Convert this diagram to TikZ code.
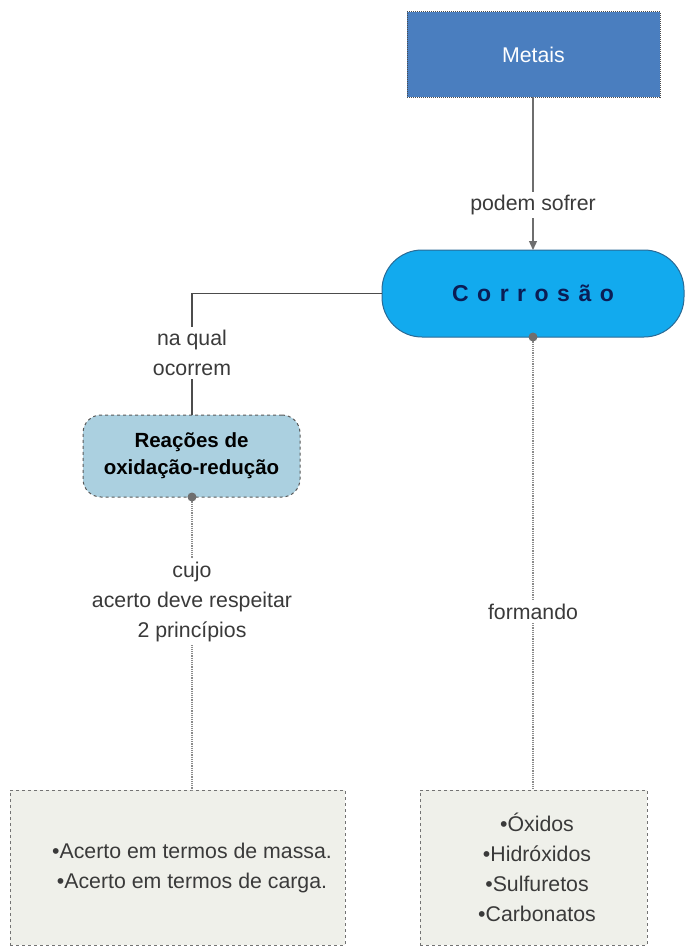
\documentclass[tikz,border=0pt]{standalone}
\usepackage{fontspec}
\setmainfont{Liberation Sans}
\usetikzlibrary{arrows.meta}
\definecolor{metfill}{HTML}{4A7EBF}
\definecolor{corfill}{HTML}{12AAEE}
\definecolor{corline}{HTML}{2A6A95}
\definecolor{cortext}{HTML}{0B1D55}
\definecolor{reafill}{HTML}{ABD0E0}
\definecolor{boxfill}{HTML}{EFF0EA}
\definecolor{txt}{HTML}{3A3A3A}
\definecolor{lin}{HTML}{6E6E6E}
\newcommand{\lsp}{\hspace{8.5pt}}
\newcommand{\shiftr}{\hspace*{29pt}}
\tikzset{
  base/.style={font=\fontsize{21.3}{30}\selectfont, text=txt, align=center, inner sep=0pt},
  metbox/.style={base, fill=metfill, draw=black!70, densely dotted, line width=1pt, text=white, minimum width=253pt, minimum height=85pt},
  corbox/.style={base, fill=corfill, draw=corline, line width=1pt, rounded corners=40pt, minimum width=302pt, minimum height=87pt, text=cortext, font=\fontsize{23}{28}\selectfont\bfseries},
  reabox/.style={base, fill=reafill, draw=black!65, dashed, line width=1pt, rounded corners=18pt, minimum width=217pt, minimum height=82pt, text=black, font=\fontsize{20.5}{27}\selectfont\bfseries},
  listbox/.style={base, fill=boxfill, draw=black!55, dashed, line width=0.8pt, minimum height=155pt},
  lbl/.style={base, fill=white, inner sep=3pt},
  solidcon/.style={draw=lin, line width=1.3pt},
  dotcon/.style={draw=lin!80, densely dotted, line width=1.2pt},
  startdot/.style={circle, fill=lin, inner sep=0pt, minimum size=9pt}
}
\begin{document}
\begin{tikzpicture}[x=1pt,y=-1pt]
\useasboundingbox (0,0) rectangle (687,950);
\node[metbox] (met) at (533.5,54.5) {Metais};
\node[corbox] (cor) at (533,293.5) {C\lsp o\lsp r\lsp r\lsp o\lsp s\lsp ã\lsp o};
\node[reabox] (rea) at (191.5,456) {Reações de\\oxidação-redução};
\node[listbox, minimum width=335pt] (lb) at (177.5,867.5) {\shiftr•Acerto em termos de massa.\\\shiftr•Acerto em termos de carga.};
\node[listbox, minimum width=227pt] (rb) at (533.5,867.5) {\hspace*{7pt}•Óxidos\\\hspace*{7pt}•Hidróxidos\\\hspace*{7pt}•Sulfuretos\\\hspace*{7pt}•Carbonatos};
\coordinate (cl) at (cor.west);
\coordinate (corner) at (192,293.5);
\coordinate (rtop) at (192,415);
\coordinate (ctop) at (533,250);
\coordinate (mbot) at (533,97);
% connectors
\draw[solidcon, -{Triangle[length=9pt,width=8pt]}] (mbot) -- (ctop) node[lbl, pos=0.706] (l1) {podem sofrer};
\draw[solidcon, draw=black!70, line width=1.2pt] (cl) -- (corner) -- (rtop) node[lbl, pos=0.49] (l2) {na qual\\ocorrem};
\coordinate (cb) at (533,337);
\coordinate (rb0) at (533,790);
\coordinate (rab) at (192,497);
\coordinate (lb0) at (192,790);
\draw[dotcon] (cb) -- (rb0) node[lbl, pos=0.607] (l3) {formando};
\draw[dotcon] (rab) -- (lb0) node[lbl, pos=0.358] (l4) {cujo\\acerto deve respeitar\\2 princípios};
\node[startdot] (d1) at (cb) {};
\node[startdot] (d2) at (rab) {};
\end{tikzpicture}
\end{document}
